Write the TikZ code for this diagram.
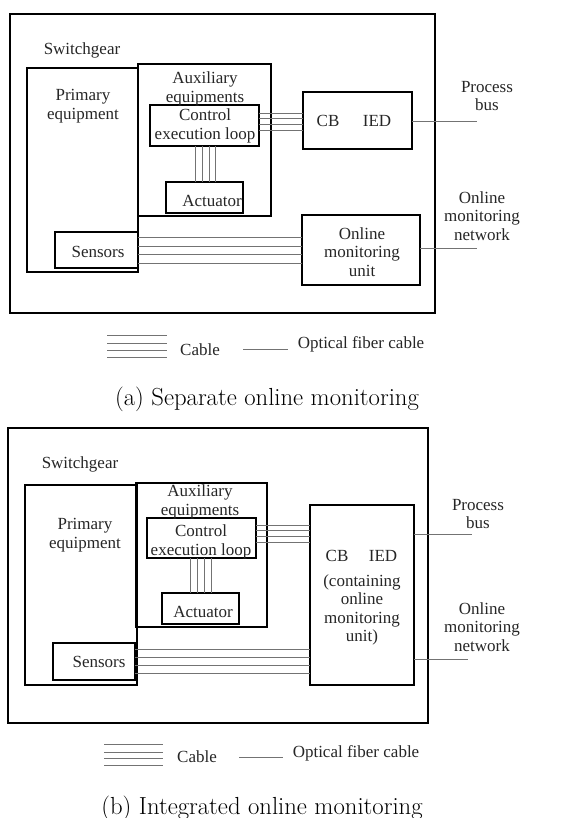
\documentclass[tikz,border=0pt]{standalone}
\usepackage{fontspec}
\newfontfamily\tnr{Liberation Serif}
\usetikzlibrary{fit}
\tikzset{
 box/.style={draw, line width=2.4pt, inner sep=0pt, outer sep=0pt},
 lbl/.style={font=\tnr\fontsize{17}{18.5}\selectfont, align=center, inner sep=0pt, text=black!85},
 cable/.style={draw=black!55, line width=0.7pt},
 fiber/.style={draw=black!55, line width=0.8pt},
 capt/.style={font=\fontsize{24.7}{29}\selectfont, inner sep=0pt}
}
\begin{document}
\begin{tikzpicture}[x=1pt,y=-1pt]
\useasboundingbox (0,0) rectangle (569,818);
% ---------------- panel (a) ----------------
\node[box, fit={(10,14) (435,313)}] (outerA) {};
\node[box, fit={(27,68) (138,272)}] (primA) {};
\node[box, fit={(138,64) (271,216)}] (auxA) {};
\node[box, fit={(150,105) (259,146)}] (ctrlA) {};
\node[box, fit={(166,182) (243,213)}] (actA) {};
\node[box, fit={(303,92) (412,149)}] (cbA) {};
\node[box, fit={(302,215) (420,285)}] (omuA) {};
\node[box, fit={(55,232) (138,268)}] (senA) {};
\node[lbl] (swA) at (82,50) {Switchgear};
\node[lbl] (primtA) at (83,106) {Primary\\equipment};
\node[lbl] (auxtA) at (205,89) {Auxiliary\\equipments};
\node[lbl] (ctrltA) at (205,126) {Control\\execution loop};
\node[lbl] (acttA) at (212,201) {Actuator};
\node[lbl] (cbtA) at (328,121) {CB};
\node[lbl] (iedtA) at (377,121) {IED};
\node[lbl] (omutA) at (362,252) {Online\\monitoring\\unit};
\node[lbl] (sentA) at (98,252) {Sensors};
\node[lbl] (pbA) at (487,96) {Process\\bus};
\node[lbl] (onA) at (482,216) {Online\\monitoring\\network};
\coordinate (pbendA) at (477,121);
\coordinate (onendA) at (477,248);
\draw[fiber] (cbA.east |- pbendA) -- (pbendA);
\draw[fiber] (omuA.east |- onendA) -- (onendA);
\foreach \yy in {113,118,124,130} \draw[cable] (ctrlA.east |- 0,\yy) -- (cbA.west |- 0,\yy);
\foreach \yy in {237,246,254,263} \draw[cable] (senA.east |- 0,\yy) -- (omuA.west |- 0,\yy);
\foreach \xx in {195,202,209,215} \draw[cable] (ctrlA.south -| \xx,0) -- (actA.north -| \xx,0);
% legend (a)
\foreach \yy in {335,343,350,357} \draw[cable] (107,\yy) -- (167,\yy);
\node[lbl] (cabA) at (200,350) {Cable};
\draw[fiber] (243,349) -- (288,349);
\node[lbl] (ofcA) at (361,344) {Optical fiber cable};
\node[capt] (capA) at (267,399) {(a) Separate online monitoring};
% ---------------- panel (b) ----------------
\node[box, fit={(8,428) (428,723)}] (outerB) {};
\node[box, fit={(25,485) (137,685)}] (primB) {};
\node[box, fit={(136,483) (267,627)}] (auxB) {};
\node[box, fit={(147,518) (256,558)}] (ctrlB) {};
\node[box, fit={(162,593) (239,624)}] (actB) {};
\node[box, fit={(310,505) (414,685)}] (cbB) {};
\node[box, fit={(53,643) (135,680)}] (senB) {};
\node[lbl] (swB) at (80,464) {Switchgear};
\node[lbl] (primtB) at (85,535) {Primary\\equipment};
\node[lbl] (auxtB) at (200,502) {Auxiliary\\equipments};
\node[lbl] (ctrltB) at (201,542) {Control\\execution loop};
\node[lbl] (acttB) at (203,612) {Actuator};
\node[lbl] (cbtB) at (337,556) {CB};
\node[lbl] (iedtB) at (383,556) {IED};
\node[lbl] (conB) at (362,610) {(containing\\online\\monitoring\\unit)};
\node[lbl] (sentB) at (99,662) {Sensors};
\node[lbl] (pbB) at (478,514) {Process\\bus};
\node[lbl] (onB) at (482,627) {Online\\monitoring\\network};
\coordinate (pbendB) at (472,534);
\coordinate (onendB) at (468,659);
\draw[fiber] (cbB.east |- pbendB) -- (pbendB);
\draw[fiber] (cbB.east |- onendB) -- (onendB);
\foreach \yy in {525,530,536,542} \draw[cable] (ctrlB.east |- 0,\yy) -- (cbB.west |- 0,\yy);
\foreach \yy in {649,657,665,673} \draw[cable] (senB.east |- 0,\yy) -- (cbB.west |- 0,\yy);
\foreach \xx in {190,197,204,211} \draw[cable] (ctrlB.south -| \xx,0) -- (actB.north -| \xx,0);
% legend (b)
\foreach \yy in {744,752,758,765} \draw[cable] (104,\yy) -- (163,\yy);
\node[lbl] (cabB) at (197,757) {Cable};
\draw[fiber] (239,757) -- (283,757);
\node[lbl] (ofcB) at (356,753) {Optical fiber cable};
\node[capt] (capB) at (262,808) {(b) Integrated online monitoring};
\end{tikzpicture}
\end{document}
